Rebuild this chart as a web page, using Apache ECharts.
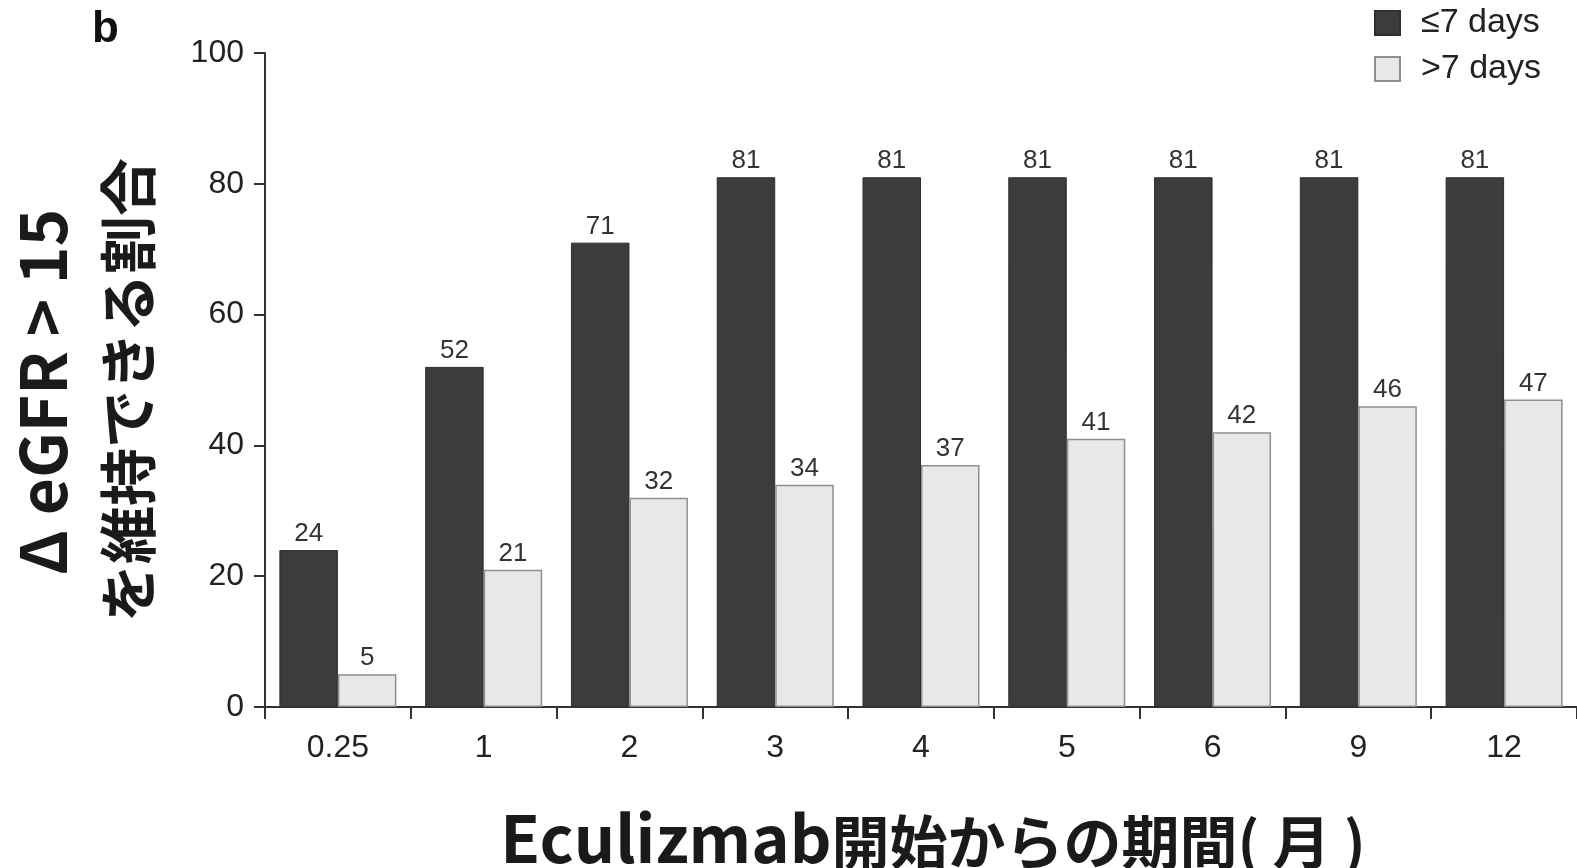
<!DOCTYPE html>
<html>
<head>
<meta charset="utf-8">
<script src="https://cdn.jsdelivr.net/npm/echarts@6/dist/echarts.min.js"></script>
<style>
  html, body { margin: 0; padding: 0; background: #fff; }
  #chart { width: 1577px; height: 868px; }
</style>
</head>
<body>
<div id="chart"></div>
<script>
// Months since eculizumab start
const months = ['0.25', '1', '2', '3', '4', '5', '6', '9', '12'];
// Share of patients keeping ΔeGFR > 15 (%)
const earlyStart = [24, 52, 71, 81, 81, 81, 81, 81, 81];   // ≤7 days
const lateStart  = [5, 21, 32, 34, 37, 41, 42, 46, 47];    // >7 days
const yTicks = [0, 20, 40, 60, 80, 100];

const chart = echarts.init(document.getElementById('chart'));
const labelFont = '"Liberation Sans", Arial, sans-serif';
const titleFont = '"Noto Sans CJK JP", "Noto Sans", sans-serif';

const valueLabel = {
  show: true,
  position: 'top',
  distance: 3,
  fontFamily: labelFont,
  fontSize: 26,
  color: '#333'
};

chart.setOption({
  animation: false,
  backgroundColor: '#fff',
  grid: { left: 265, width: 1315, top: 53, bottom: 161, containLabel: false },
  legend: {
    orient: 'vertical',
    left: 1374,
    top: 6,
    padding: 0,
    itemWidth: 25,
    itemHeight: 24,
    itemGap: 12,
    icon: 'rect',
    textStyle: { fontFamily: labelFont, fontSize: 34, color: '#222', padding: [0, 0, 0, 16] },
    data: ['≤7 days', '>7 days']
  },
  xAxis: {
    type: 'category',
    data: months,
    axisLine: { lineStyle: { color: '#333', width: 2 } },
    axisTick: { show: true, length: 12, lineStyle: { color: '#333', width: 2 } },
    axisLabel: { fontFamily: labelFont, fontSize: 32, color: '#222', margin: 25 }
  },
  yAxis: {
    type: 'value',
    min: yTicks[0],
    max: yTicks[yTicks.length - 1],
    interval: 20,
    splitLine: { show: false },
    axisLine: { show: true, lineStyle: { color: '#333', width: 2 } },
    axisTick: { show: true, length: 11, lineStyle: { color: '#333', width: 2 } },
    axisLabel: { fontFamily: labelFont, fontSize: 32, color: '#222', margin: 21 }
  },
  series: [
    {
      name: '≤7 days',
      type: 'bar',
      data: earlyStart,
      barWidth: 58.5,
      barGap: '0%',
      itemStyle: { color: '#3c3c3c', borderColor: '#2e2e2e', borderWidth: 1 },
      label: valueLabel
    },
    {
      name: '>7 days',
      type: 'bar',
      data: lateStart,
      barWidth: 58.5,
      barGap: '0%',
      itemStyle: { color: '#e8e8e8', borderColor: '#8f8f8f', borderWidth: 1.5 },
      label: valueLabel
    }
  ],
  graphic: [
    {
      type: 'text', left: 92, top: 8,
      style: { text: 'b', fontFamily: labelFont, fontWeight: 'bold', fontSize: 44, fill: '#111' }
    },
    {
      type: 'text', x: 43, y: 392, rotation: Math.PI / 2,
      style: {
        text: 'Δ eGFR > 15', fontFamily: titleFont, fontWeight: 'bold', fontSize: 64,
        fill: '#1a1a1a', align: 'center', verticalAlign: 'middle'
      }
    },
    {
      type: 'text', x: 128, y: 390, rotation: Math.PI / 2,
      style: {
        text: 'を維持できる割合', fontFamily: titleFont, fontWeight: 'bold', fontSize: 58,
        fill: '#1a1a1a', align: 'center', verticalAlign: 'middle'
      }
    },
    {
      type: 'text', x: 933, y: 838,
      style: {
        text: '{lat|Eculizmab}{cjk|開始からの期間( 月 )}',
        fontFamily: titleFont, fontWeight: 'bold', fill: '#1a1a1a',
        align: 'center', verticalAlign: 'middle',
        rich: {
          lat: { fontFamily: titleFont, fontWeight: 'bold', fontSize: 65, fill: '#1a1a1a', verticalAlign: 'bottom' },
          cjk: { fontFamily: titleFont, fontWeight: 'bold', fontSize: 58, fill: '#1a1a1a', verticalAlign: 'bottom' }
        }
      }
    }
  ]
});
</script>
</body>
</html>
